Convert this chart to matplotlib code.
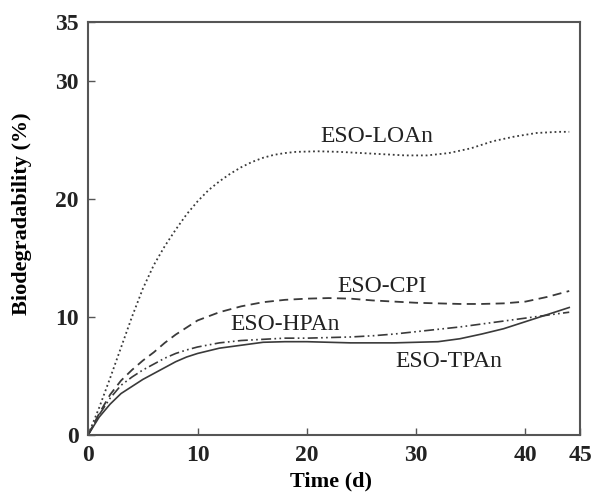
import matplotlib.pyplot as plt

plt.rcParams['font.family'] = ['Liberation Serif', 'DejaVu Serif']

# time (d) and biodegradability (%)
t_loan = [0, 1, 2, 3, 4, 5, 6, 7, 8, 9, 10, 11, 12, 13, 14, 15, 16, 17, 18, 19, 21, 23, 25, 27, 29, 31, 33, 35, 37, 39, 41, 43, 44]
y_loan = [0, 2.3, 4.8, 7.4, 10.0, 12.4, 14.4, 16.0, 17.4, 18.7, 19.8, 20.75, 21.5, 22.15, 22.7, 23.15, 23.5, 23.75, 23.9, 24.0, 24.05, 24.0, 23.9, 23.8, 23.7, 23.7, 23.9, 24.3, 24.9, 25.3, 25.6, 25.7, 25.7]

t_cpi = [0, 1, 2, 3, 4, 5, 6, 7, 8, 9, 10, 12, 14, 16, 18, 20, 22, 24, 26, 28, 30, 32, 34, 36, 38, 40, 42, 44]
y_cpi = [0, 1.8, 3.4, 4.6, 5.5, 6.3, 7.0, 7.8, 8.5, 9.1, 9.7, 10.4, 10.9, 11.25, 11.45, 11.55, 11.6, 11.55, 11.4, 11.3, 11.2, 11.15, 11.1, 11.1, 11.15, 11.3, 11.7, 12.2]

t_hpan = [0, 1, 2, 3, 4, 5, 6, 7, 8, 9, 10, 12, 14, 16, 18, 20, 22, 24, 26, 28, 30, 32, 34, 36, 38, 40, 42, 44]
y_hpan = [0, 1.7, 3.1, 4.2, 4.9, 5.5, 6.0, 6.5, 6.9, 7.2, 7.45, 7.8, 8.0, 8.1, 8.2, 8.2, 8.25, 8.3, 8.4, 8.55, 8.75, 8.95, 9.15, 9.4, 9.65, 9.9, 10.15, 10.4]

t_tpan = [0, 1, 2, 3, 4, 5, 6, 7, 8, 9, 10, 12, 14, 16, 18, 20, 22, 24, 26, 28, 30, 32, 34, 36, 38, 40, 42, 44]
y_tpan = [0, 1.5, 2.6, 3.5, 4.1, 4.7, 5.2, 5.7, 6.2, 6.6, 6.9, 7.35, 7.6, 7.85, 7.9, 7.9, 7.85, 7.8, 7.8, 7.8, 7.85, 7.9, 8.15, 8.55, 9.0, 9.6, 10.2, 10.8]

labels = ['ESO-LOAn', 'ESO-CPI', 'ESO-HPAn', 'ESO-TPAn']
label_x = [26.4, 26.9, 18.0, 33.0]
label_y = [25.3, 12.6, 9.4, 6.2]

fig, ax = plt.subplots(figsize=(5.92, 4.93), dpi=100)
fig.subplots_adjust(left=0.149, right=0.98, top=0.955, bottom=0.118)

c = '#3a3a3a'
ax.plot(t_loan, y_loan, color=c, lw=1.3, linestyle=(0, (1, 1.6)))
ax.plot(t_cpi, y_cpi, color=c, lw=1.3, linestyle=(0, (5, 3)))
ax.plot(t_hpan, y_hpan, color=c, lw=1.2, linestyle=(0, (6, 2, 1, 2, 1, 2)))
ax.plot(t_tpan, y_tpan, color=c, lw=1.2, linestyle='-')

for lab, lx, ly in zip(labels, label_x, label_y):
    ax.text(lx, ly, lab, ha='center', va='center', fontsize=17, color='#222222')

ax.set_xlim(0, 45)
ax.set_ylim(0, 35)
ax.set_xticks([0, 10, 20, 30, 40, 45])
ax.set_yticks([0, 10, 20, 30, 35])
ax.tick_params(direction='in', length=5, width=1, colors='#555555', labelcolor='#222222', labelsize=17)
ax.tick_params(axis='x', pad=7)
ax.tick_params(axis='y', pad=7)
for lbl in ax.get_xticklabels() + ax.get_yticklabels():
    lbl.set_fontweight('bold')
for s in ax.spines.values():
    s.set_color('#555555')
    s.set_linewidth(1.5)

ax.set_xlabel('Time (d)', fontsize=16, fontweight='bold')
ax.set_ylabel('Biodegradability (%)', fontsize=16, fontweight='bold')
ax.xaxis.set_label_coords(0.494, -0.088)
ax.yaxis.set_label_coords(-0.114, 0.537)

plt.savefig('out.png', dpi=100)
